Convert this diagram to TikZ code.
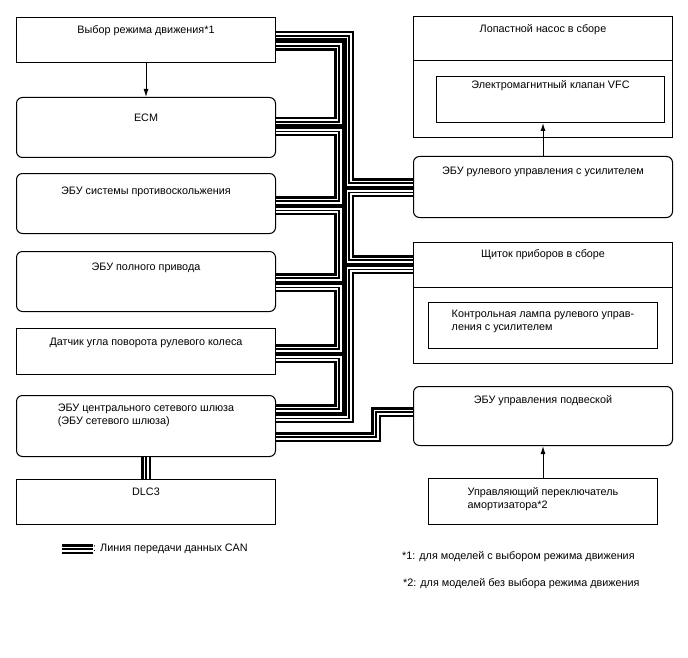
\documentclass[tikz,border=0pt]{standalone}
\usepackage{fontspec}
\setmainfont{Liberation Sans}
\usetikzlibrary{arrows.meta,positioning}
\newcommand\ecufont{\fontsize{10.8}{13}\selectfont}
\tikzset{
  unit/.style ={draw,line width=1pt,fill=white,minimum width=259pt,inner sep=0pt,
                align=center,font=\ecufont},
  sqbox/.style={unit},
  rbox/.style ={unit,rounded corners=6pt},
  inbox/.style={unit,minimum width=229pt},
  hd/.style 2 args={text height=#1pt,text depth=#2pt},
  note/.style ={inner sep=0pt,anchor=west,font=\ecufont},
  can/.style  ={line width=9.5pt,postaction={draw,white,line width=5pt},
                postaction={draw,black,line width=1.1pt}},
  sig/.style  ={-{Latex[length=8pt,width=5pt]},line width=1pt},
}

\begin{document}
\begin{tikzpicture}[x=1pt,y=-1pt]
\useasboundingbox (0,0) rectangle (688,658);
% left column
\node[sqbox,hd={16.5}{28.5},anchor=north west] (vyb) at (16,17) {Выбор режима движения*1};
\node[rbox,hd={24.5}{35.5},below=34pt of vyb] (ecm) {ECM};
\node[rbox,hd={21}{39},below=15pt of ecm] (abs) {ЭБУ системы противоскольжения};
\node[rbox,hd={19}{41},below=17pt of abs] (awd) {ЭБУ полного привода};
\node[sqbox,hd={16.5}{29.5},below=16pt of awd] (sas) {Датчик угла поворота рулевого колеса};
\node[rbox,hd={28.5}{32.5},align=left,below=20pt of sas] (gw) {ЭБУ центрального сетевого шлюза\\(ЭБУ сетевого шлюза)};
\node[sqbox,hd={16}{29},below=22pt of gw] (dlc) {DLC3};
% right column
\node[sqbox,hd={16.5}{104.5},anchor=north west] (pump) at (413,16) {Лопастной насос в сборе};
\node[inbox,hd={12.5}{33.5},minimum width=228pt,below=60pt of pump.north,xshift=7.5pt] (vfc) {Электромагнитный клапан VFC};
\node[rbox,hd={18.5}{42.5},below=18pt of pump] (eps) {ЭБУ рулевого управления с усилителем};
\node[sqbox,hd={14.5}{106.5},below=24pt of eps] (meter) {Щиток приборов в сборе};
\node[inbox,hd={27.5}{18.5},align=left,below=60pt of meter.north] (lamp) {Контрольная лампа рулевого управ-\\ления с усилителем};
\node[rbox,hd={16.5}{42.5},below=22pt of meter] (susp) {ЭБУ управления подвеской};
\node[inbox,hd={29.5}{16.5},align=left,below=32pt of susp] (sw) {Управляющий переключатель\\амортизатора*2};
\draw[line width=1pt] ([yshift=-45pt]pump.north west) -- ([yshift=-45pt]pump.north east);
\draw[line width=1pt] ([yshift=-45pt]meter.north west) -- ([yshift=-45pt]meter.north east);
% signal arrows
\draw[sig] (vyb.south) -- (ecm.north);
\draw[sig] (eps.north) -- (eps.north |- vfc.south);
\draw[sig] (sw.north) -- (susp.north |- susp.south);
% bus ports
\coordinate (ib) at (339,0);
\coordinate (ob) at (349,0);
\coordinate (vyb-o) at ([yshift=-19pt]vyb.north east);
\coordinate (vyb-i) at ([yshift=-29pt]vyb.north east);
\coordinate (ecm-a) at ([yshift=-25pt]ecm.north east);
\coordinate (ecm-b) at ([yshift=-34.5pt]ecm.north east);
\coordinate (abs-a) at ([yshift=-28pt]abs.north east);
\coordinate (abs-b) at ([yshift=-37.5pt]abs.north east);
\coordinate (awd-a) at ([yshift=-27pt]awd.north east);
\coordinate (awd-b) at ([yshift=-36.5pt]awd.north east);
\coordinate (sas-a) at ([yshift=-21pt]sas.north east);
\coordinate (sas-b) at ([yshift=-30.5pt]sas.north east);
\coordinate (gw-a) at ([yshift=-14pt]gw.north east);
\coordinate (gw-b) at ([yshift=-23.5pt]gw.north east);
\coordinate (gw-c) at ([yshift=-42pt]gw.north east);
\coordinate (eps-a) at ([yshift=-27pt]eps.north west);
\coordinate (eps-b) at ([yshift=-36.5pt]eps.north west);
\coordinate (meter-a) at ([yshift=-18pt]meter.north west);
\coordinate (meter-b) at ([yshift=-27.5pt]meter.north west);
\coordinate (susp-a) at ([yshift=-26pt]susp.north west);
\coordinate (jog) at (376,0);
% CAN bus, inner chain
\draw[can] (vyb-i) -| (ib |- ecm-a) -- (ecm-a);
\draw[can] (ecm-b) -| (ib |- abs-a) -- (abs-a);
\draw[can] (abs-b) -| (ib |- awd-a) -- (awd-a);
\draw[can] (awd-b) -| (ib |- sas-a) -- (sas-a);
\draw[can] (sas-b) -| (ib |- gw-a) -- (gw-a);
% CAN bus, outer chain
\draw[can] (vyb-o) -| (ob |- eps-a) -- (eps-a);
\draw[can] (eps-b) -| (ob |- meter-a) -- (meter-a);
\draw[can] (meter-b) -| (ob |- gw-b) -- (gw-b);
\draw[can] (gw-c) -| (jog |- susp-a) -- (susp-a);
\draw[can] (gw.south) -- (dlc.north);
% legend and notes
\node[note] (leg) at (93,549) {: Линия передачи данных CAN};
\draw[can] ([xshift=-31pt]leg.west) -- (leg.west);
\node[note] (n1) at (402,557) {*1: для моделей с выбором режима движения};
\node[note] (n2) at (403,584) {*2: для моделей без выбора режима движения};
\end{tikzpicture}
\end{document}
